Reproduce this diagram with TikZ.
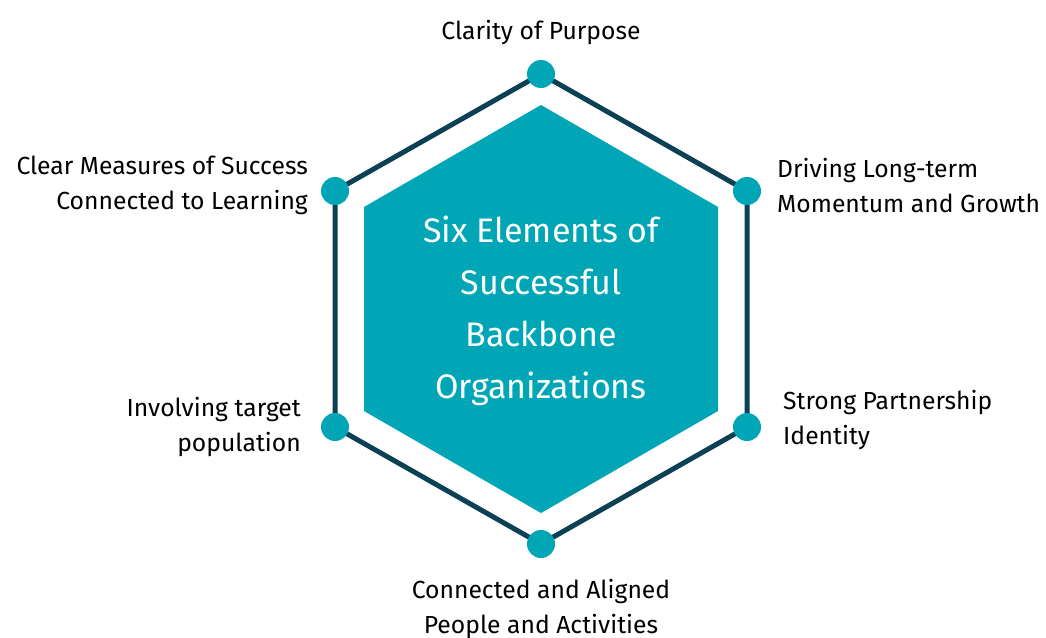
\documentclass[tikz,border=0pt]{standalone}
\usepackage{fontspec}
\setmainfont{Fira Sans}
\definecolor{teal1}{RGB}{0,166,181}
\definecolor{navy1}{RGB}{12,64,84}
\begin{document}
\begin{tikzpicture}[x=1pt,y=-1pt,
  lbl/.style={font=\fontsize{24.7}{35}\selectfont, text=black, inner sep=0pt},
  dot/.style={circle, fill=teal1, minimum size=28pt, inner sep=0pt},
  ctr/.style={font=\fontsize{34}{52}\selectfont, text=white, align=center, inner sep=0pt}]
\path[use as bounding box] (0,0) rectangle (1046,637);
% outer hexagon
\coordinate (v1) at (541,74);
\coordinate (v2) at (747,191);
\coordinate (v3) at (747,427);
\coordinate (v4) at (541,544);
\coordinate (v5) at (335,427);
\coordinate (v6) at (335,191);
\draw[navy1, line width=5pt, line join=miter] (v1) -- (v2) -- (v3) -- (v4) -- (v5) -- (v6) -- cycle;
% inner hexagon
\fill[teal1] (541,105) -- (718,207) -- (718,411) -- (541,513) -- (364,411) -- (364,207) -- cycle;
\node[dot] (d1) at (v1) {};
\node[dot] (d2) at (v2) {};
\node[dot] (d3) at (v3) {};
\node[dot] (d4) at (v4) {};
\node[dot] (d5) at (v5) {};
\node[dot] (d6) at (v6) {};
\node[ctr] (c) at (541,311) {Six Elements of\\Successful\\Backbone\\Organizations};
\node[lbl, anchor=center] (l1) at (541,32) {Clarity of Purpose};
\node[lbl, align=left, anchor=west] (l2) at (777,186) {Driving Long-term\\Momentum and Growth};
\node[lbl, align=left, anchor=west] (l3) at (783,420) {Strong Partnership\\Identity};
\node[lbl, align=center, anchor=center] (l4) at (541,609) {Connected and Aligned\\People and Activities};
\node[lbl, align=right, anchor=east] (l5) at (301,427) {Involving target\\population};
\node[lbl, align=right, anchor=east] (l6) at (308,185) {Clear Measures of Success\\Connected to Learning};
\end{tikzpicture}
\end{document}
